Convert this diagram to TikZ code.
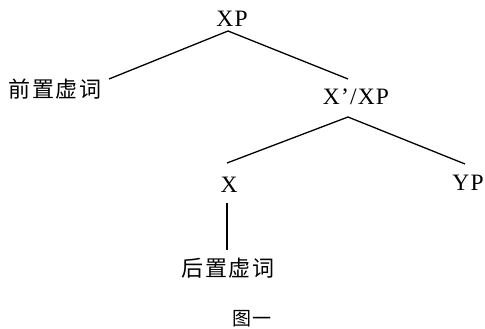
\documentclass[tikz,border=0pt]{standalone}
\usepackage{fontspec}
\setmainfont{Liberation Serif}
\newfontfamily\latf[LetterSpace=5]{Liberation Serif}
\newfontfamily\cjk[LetterSpace=8]{Noto Sans CJK SC}
\begin{document}
\begin{tikzpicture}[x=1pt,y=-1pt,
  lat/.style={inner sep=0pt,anchor=base,font=\latf\fontsize{23.5}{23.5}\selectfont},
  zh/.style={inner sep=0pt,anchor=center,font=\cjk\fontsize{22}{22}\selectfont},
  edge/.style={line width=1.3pt,black}]
\useasboundingbox (0,0) rectangle (485,329);
% labels
\node[lat] (xp) at (232,27) {XP};
\node[lat] (xbar) at (356,105) {X’/XP};
\node[lat] (x) at (229,192) {X};
\node[lat] (yp) at (468,190) {YP};
\node[zh] (pre) at (55,89) {前置虚词};
\node[zh] (post) at (228,268) {后置虚词};
\node[zh,font=\cjk\fontsize{19}{19}\selectfont] (cap) at (252,319) {图一};
% branch points
\coordinate (xpb) at (228,31);
\coordinate (pret) at (109,79);
\coordinate (xbart) at (348,79);
\coordinate (xbarb) at (348,117);
\coordinate (xt) at (227,163);
\coordinate (ypt) at (465,164);
\coordinate (xb) at (227,203);
\coordinate (postt) at (227,250);
% edges
\draw[edge] (xpb) -- (pret);
\draw[edge] (xpb) -- (xbart);
\draw[edge] (xbarb) -- (xt);
\draw[edge] (xbarb) -- (ypt);
\draw[edge] (xb) -- (postt);
\end{tikzpicture}
\end{document}
